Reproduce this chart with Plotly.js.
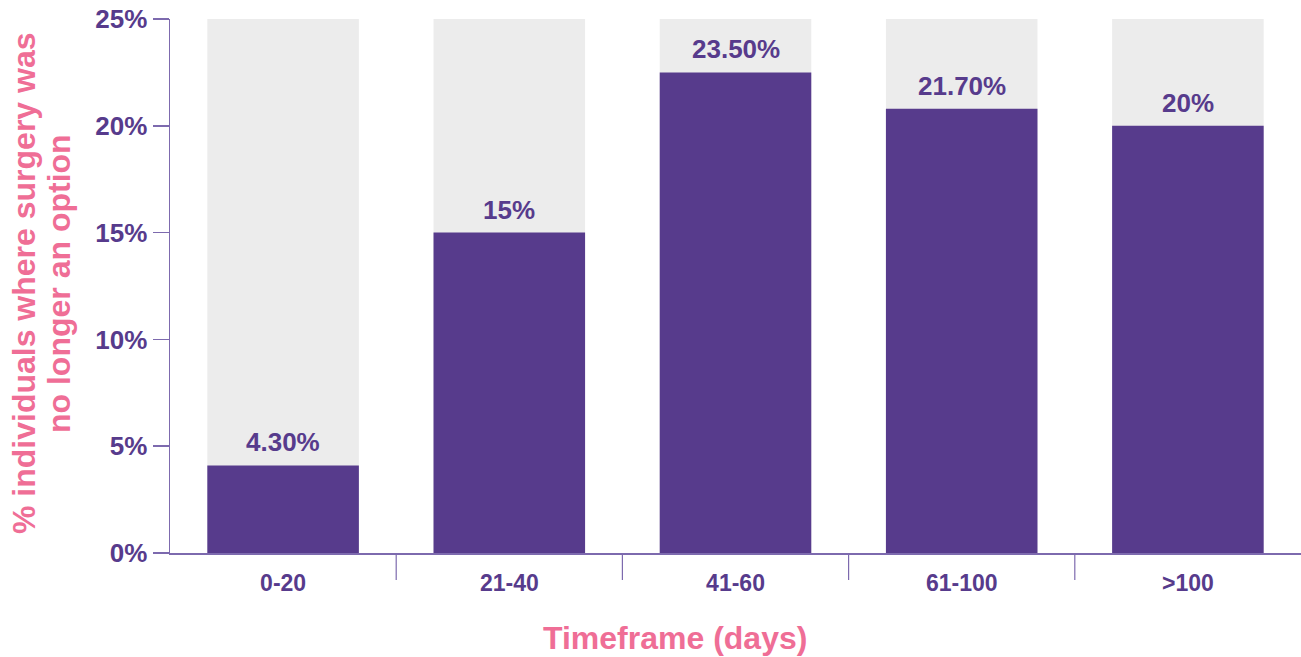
<!DOCTYPE html>
<html>
<head>
<meta charset="utf-8">
<script src="https://cdn.plot.ly/plotly-3.0.1.min.js"></script>
<style>html,body{margin:0;padding:0;background:#fff;}#chart{width:1301px;height:657px;}</style>
</head>
<body>
<div id="chart"></div>
<script>
// ---- data ----
const categories = ['0-20', '21-40', '41-60', '61-100', '>100'];
const barValues = [4.1, 15, 22.5, 20.8, 20];
const labelTexts = ['4.30%', '15%', '23.50%', '21.70%', '20%'];
const trackValues = [25, 25, 25, 25, 25];
const yTickVals = [0, 5, 10, 15, 20, 25];
const yTickText = ['0%', '5%', '10%', '15%', '20%', '25%'];
const yTitleLines = ['% individuals where surgery was', 'no longer an option'];
const xTitle = 'Timeframe (days)';

// ---- style ----
const PURPLE = '#573b8c';
const AXIS = '#7d6aae';
const PINK = '#ef6e96';
const GRAY = '#ececec';
const FAMILY = '"Liberation Sans", Arial, sans-serif';
const W = 1301, H = 657;
const M = {l: 170, r: 0, t: 19, b: 104};
const PW = W - M.l - M.r, PH = H - M.t - M.b;
const px2x = p => (p - M.l) / PW;
const py2y = p => (H - M.b - p) / PH;

const traces = [
  {type: 'bar', x: categories, y: trackValues, marker: {color: GRAY}, hoverinfo: 'skip', showlegend: false},
  {type: 'bar', x: categories, y: barValues, marker: {color: PURPLE}, showlegend: false}
];

const annotations = categories.map((c, i) => ({
  x: c, y: barValues[i], xref: 'x', yref: 'y', text: labelTexts[i],
  showarrow: false, yanchor: 'bottom', yshift: 6,
  font: {family: FAMILY, size: 26, color: PURPLE, weight: 'bold'}
}));
annotations.push(
  {xref: 'paper', yref: 'paper', x: px2x(44), y: py2y(283), xanchor: 'right', yanchor: 'middle',
   text: yTitleLines[0], textangle: -90, showarrow: false,
   font: {family: FAMILY, size: 32, color: PINK, weight: 'bold'}},
  {xref: 'paper', yref: 'paper', x: px2x(79), y: py2y(283), xanchor: 'right', yanchor: 'middle',
   text: yTitleLines[1], textangle: -90, showarrow: false,
   font: {family: FAMILY, size: 32, color: PINK, weight: 'bold'}},
  {xref: 'paper', yref: 'paper', x: px2x(675), y: py2y(638), xanchor: 'center', yanchor: 'middle',
   text: xTitle, showarrow: false, borderpad: 0,
   font: {family: FAMILY, size: 32, color: PINK, weight: 'bold'}}
);

const shapes = [];
for (let i = 0; i < categories.length - 1; i++) {
  shapes.push({type: 'line', xref: 'x', yref: 'paper', x0: i + 0.5, x1: i + 0.5,
    y0: 0, y1: py2y(580), line: {color: AXIS, width: 1.2}});
}
shapes.push({type: 'line', xref: 'paper', yref: 'paper', x0: px2x(158), x1: 0, y0: 0, y1: 0,
  line: {color: AXIS, width: 1.5}});

const layout = {
  width: W, height: H, margin: M,
  paper_bgcolor: '#fff', plot_bgcolor: '#fff',
  barmode: 'overlay', bargap: 0.33,
  showlegend: false,
  xaxis: {
    type: 'category', range: [-0.5, categories.length - 0.5],
    showline: true, linecolor: AXIS, linewidth: 1.5,
    ticks: 'outside', ticklen: 9, tickcolor: 'rgba(0,0,0,0)',
    showgrid: false, zeroline: false,
    tickfont: {family: FAMILY, size: 23, color: PURPLE, weight: 'bold'}
  },
  yaxis: {
    range: [0, 25], tickvals: yTickVals, ticktext: yTickText,
    showline: true, linecolor: AXIS, linewidth: 1.5,
    ticks: 'outside', ticklen: 16, tickcolor: AXIS, tickwidth: 1.5,
    showgrid: false, zeroline: false,
    tickfont: {family: FAMILY, size: 26, color: PURPLE, weight: 'bold'}
  },
  annotations: annotations,
  shapes: shapes
};

Plotly.newPlot('chart', traces, layout, {displayModeBar: false, staticPlot: true});
</script>
</body>
</html>
